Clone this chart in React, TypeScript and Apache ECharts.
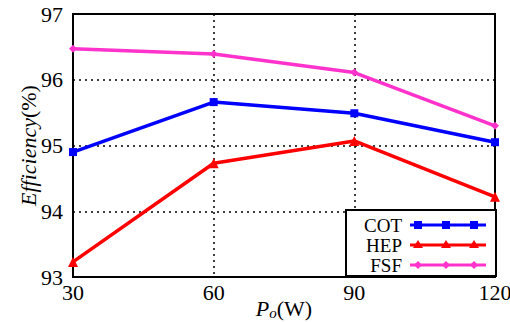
import React, { useEffect, useRef } from "react";
import * as echarts from "echarts";

const powers = [30, 60, 90, 120];
const cotValues = [94.9, 95.66, 95.49, 95.05];
const hepValues = [93.23, 94.73, 95.07, 94.22];
const fsfValues = [96.47, 96.39, 96.11, 95.3];
const seriesNames = ["COT", "HEP", "FSF"];
const colors = ["#0000ff", "#ff0000", "#ff33cc"];
const symbols = ["rect", "triangle", "diamond"];

const FONT = "'Liberation Serif', 'Times New Roman', Times, serif";

export default function App() {
  const ref = useRef<HTMLDivElement>(null);
  useEffect(() => {
    if (!ref.current) return;
    const chart = echarts.init(ref.current, null, { renderer: "svg" });
    const values = [cotValues, hepValues, fsfValues];
    const legendTop = 210;
    const rowY = [225, 245, 265];
    const markerXs = [418, 446, 474];
    const legendEls: any[] = [
      {
        type: "rect",
        shape: { x: 346, y: legendTop, width: 150, height: 66 },
        style: { fill: "#fff", stroke: "#000", lineWidth: 2 },
        z: 100,
      },
    ];
    seriesNames.forEach((n, i) => {
      legendEls.push({
        type: "text",
        x: 402,
        y: rowY[i],
        style: {
          text: n,
          fontFamily: FONT,
          fontSize: 19,
          lineHeight: 19,
          fill: "#000",
          align: "right",
          verticalAlign: "middle",
        },
        z: 101,
      });
      legendEls.push({
        type: "line",
        shape: { x1: 410, y1: rowY[i], x2: 486, y2: rowY[i] },
        style: { stroke: colors[i], lineWidth: 3 },
        z: 101,
      });
      markerXs.forEach((mx) => {
        const y = rowY[i];
        if (i === 0) {
          legendEls.push({
            type: "rect",
            shape: { x: mx - 4, y: y - 4, width: 8, height: 8 },
            style: { fill: colors[i] },
            z: 102,
          });
        } else if (i === 1) {
          legendEls.push({
            type: "polygon",
            shape: { points: [[mx, y - 5], [mx - 5, y + 3], [mx + 5, y + 3]] },
            style: { fill: colors[i] },
            z: 102,
          });
        } else {
          legendEls.push({
            type: "polygon",
            shape: { points: [[mx, y - 4], [mx + 4, y], [mx, y + 4], [mx - 4, y]] },
            style: { fill: colors[i] },
            z: 102,
          });
        }
      });
    });

    chart.setOption({
      animation: false,
      backgroundColor: "#fff",
      textStyle: { fontFamily: FONT },
      grid: {
        left: 73,
        top: 14,
        right: 15,
        bottom: 45,
        containLabel: false,
        outerBoundsMode: "none",
        show: true,
        borderColor: "#000",
        borderWidth: 2,
        backgroundColor: "transparent",
      },
      xAxis: {
        type: "value",
        min: 30,
        max: 120,
        interval: 30,
        axisLine: { show: true, lineStyle: { color: "#000", width: 2 } },
        axisTick: { show: false },
        axisLabel: { color: "#000", fontSize: 22, fontFamily: FONT, margin: 4 },
        splitLine: { show: true, lineStyle: { color: "#000", type: [2, 4], width: 1.5 } },
        name: "{p|P}{o|o}{w|(W)}",
        nameLocation: "middle",
        nameGap: 20,
        nameMoveOverlap: false,
        nameTextStyle: {
          fontFamily: FONT,
          rich: {
            p: { fontSize: 22, fontStyle: "italic", fontFamily: FONT, color: "#000" },
            o: { fontSize: 15, fontStyle: "italic", fontFamily: FONT, color: "#000", padding: [8, 0, 0, 0] },
            w: { fontSize: 22, fontFamily: FONT, color: "#000" },
          },
        },
      },
      yAxis: {
        type: "value",
        min: 93,
        max: 97,
        interval: 1,
        axisLine: { show: true, lineStyle: { color: "#000", width: 2 } },
        axisTick: { show: false },
        axisLabel: { color: "#000", fontSize: 22, fontFamily: FONT, margin: 10 },
        splitLine: { show: true, lineStyle: { color: "#000", type: [2, 4], width: 1.5 } },
        name: "{i|Efficiency}{n|(%)}",
        nameLocation: "middle",
        nameGap: 34,
        nameMoveOverlap: false,
        nameTextStyle: {
          fontFamily: FONT,
          rich: {
            i: { fontSize: 22, fontStyle: "italic", fontFamily: FONT, color: "#000" },
            n: { fontSize: 22, fontFamily: FONT, color: "#000" },
          },
        },
      },
      series: seriesNames.map((n, i) => ({
        name: n,
        type: "line",
        data: powers.map((p, j) => [p, values[i][j]]),
        symbol: symbols[i],
        symbolSize: i === 1 ? 10 : 8,
        showSymbol: true,
        clip: false,
        lineStyle: { color: colors[i], width: 3.5 },
        itemStyle: { color: colors[i] },
        z: 3,
      })),
      graphic: legendEls,
    });
    return () => chart.dispose();
  }, []);
  return <div ref={ref} style={{ width: 510, height: 322, position: "absolute", left: 0, top: 0 }} />;
}
